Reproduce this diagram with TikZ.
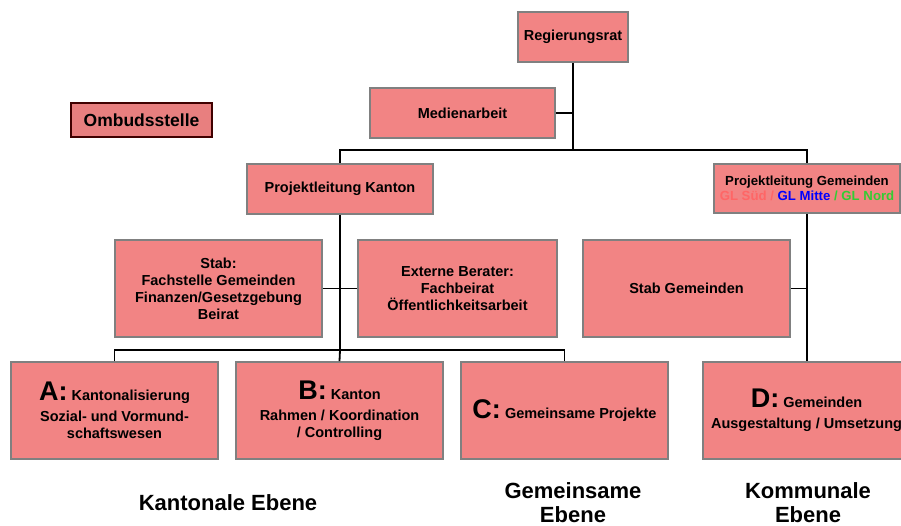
\documentclass[tikz,border=0pt]{standalone}
\usepackage{fontspec}
\setmainfont{Liberation Sans}
\usepackage{tikz}
\usetikzlibrary{positioning}
\definecolor{boxred}{RGB}{242,132,132}
\definecolor{boxline}{RGB}{128,128,128}
\definecolor{ombline}{RGB}{64,0,0}
\definecolor{glsued}{RGB}{255,102,102}
\definecolor{glnord}{RGB}{51,204,51}

\begin{document}
\begin{tikzpicture}[
			x=1pt, y=-1pt,
			every node/.style={font=\bfseries\fontsize{14.5}{17}\selectfont, align=center},
			orgbox/.style={rectangle, draw=boxline, fill=boxred, line width=1.6pt, inner sep=2pt},
			wide/.style={orgbox, minimum width=207pt, minimum height=97pt},
			link/.style={line width=1.8pt},
			level/.style={font=\bfseries\fontsize{22}{24}\selectfont}
		]
		\newcommand{\letterbig}[1]{{\fontsize{27}{27}\selectfont #1}}

		\useasboundingbox (0,0) rectangle (901,526);
		\clip (0,0) rectangle (901,526);

		% Top (Regierung)
		\node[orgbox, minimum width=110pt, minimum height=50pt] (reg) at (573,37) {Regierungsrat};
		\node[orgbox, minimum width=185pt, minimum height=50pt] (med) at (462.5,113) {Medienarbeit};
		\node[orgbox, draw=ombline, fill=boxred!96!black, line width=1.3pt,
			minimum width=141pt, minimum height=34pt, font=\bfseries\fontsize{17.5}{20}\selectfont]
			(omb) at (141.5,120) {Ombudsstelle};
		\draw[link] (med.east) -- (med.east -| reg.south);

		% Projektleitungen
		\node[orgbox, minimum width=186pt, minimum height=50pt] (plk) at (340,189) {Projektleitung Kanton};
		\node[orgbox, minimum width=186pt, minimum height=49pt, font=\bfseries\fontsize{13.2}{15.5}\selectfont]
			(plg) at (807,188.5) {Projektleitung Gemeinden\\
			\textcolor{glsued}{GL Süd /} \textcolor{blue}{GL Mitte} \textcolor{glnord}{/ GL Nord}};
		\coordinate (top) at (573,150);
		\draw[link] (reg.south) -- (top);
		\draw[link] (plk.north) |- (top) -| (plg.north);

		% Staebe
		\node[wide] (stab) at (218.5,288.5) {Stab:\\Fachstelle Gemeinden\\Finanzen/Gesetzgebung\\Beirat};
		\node[wide, minimum width=199pt] (ext) at (457.5,288.5) {Externe Berater:\\Fachbeirat\\Öffentlichkeitsarbeit};
		\node[wide] (stg) at (686.5,288.5) {Stab Gemeinden};
		\draw[link] (stab.east) -- (ext.west);
		\draw[link] (stg.east) -- (stg.east -| plg.south);

		% Teilprojekte A-D
		\node[wide] (A) at (114.5,410.5) {\letterbig{A:} Kantonalisierung\\[4pt]Sozial- und Vormund-\\schaftswesen};
		\node[wide] (B) at (339.5,410.5) {\letterbig{B:} Kanton\\[4pt]Rahmen / Koordination\\/ Controlling};
		\node[wide] (C) at (564.5,410.5) {\letterbig{C:} Gemeinsame Projekte};
		\node[wide] (D) at (806.5,410.5) {\letterbig{D:} Gemeinden\\[4pt]Ausgestaltung / Umsetzung};
		\coordinate (mid) at (340,350);
		\draw[link] (plk.south) -- (mid);
		\draw[link] (A.north) |- (mid) -| (C.north);
		\draw[link] (mid) -- (B.north);
		\draw[link] (plg.south) -- (plg.south |- D.north);

		% Ebenen
		\node[level] (kant) at (228,503) {Kantonale Ebene};
		\node[level] (gem) at (573,503) {Gemeinsame\\Ebene};
		\node[level] (komm) at (808,503) {Kommunale\\Ebene};

	\end{tikzpicture}
\end{document}
